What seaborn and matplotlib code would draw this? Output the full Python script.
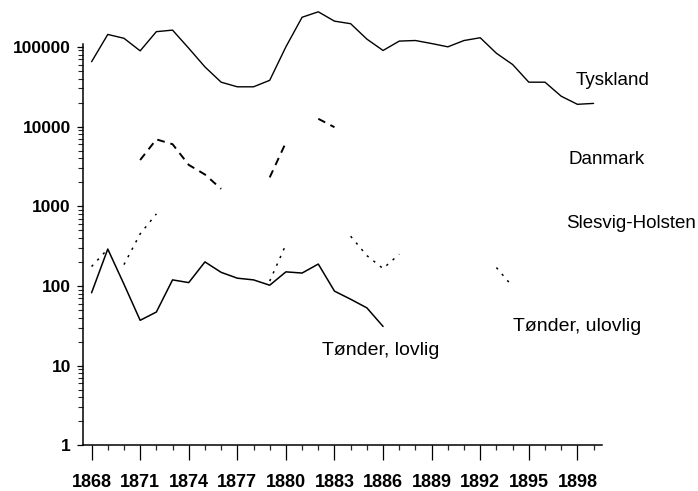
import numpy as np, pandas as pd
import matplotlib
matplotlib.use("Agg")
import matplotlib.pyplot as plt
import matplotlib.ticker as mticker
import seaborn as sns

# years on the x axis
years = list(range(1868, 1900))

# values (None = nothing visible in the scan)
tyskland = [65000, 143000, 128000, 89000, 155000, 162000, 96000, 56000,
            36000, 31500, 31500, 38000, 100000, 235000, 275000, 210000,
            195000, 125000, 90000, 118000, 120000, 110000, 100000, 120000,
            130000, 83000, 60000, 36000, 36000, 24000, 19000, 19500]

danmark = [None, None, None, 3800, 6900, 6000, 3300, 2500,
           1650, None, None, 2300, 6300, None, 12500, 9800,
           None, None, None, None, None, None, None, None,
           None, None, None, None, None, None, None, None]

slesvig = [175, 290, None, None, None, None, None, None,
           None, None, None, None, None, None, None, None,
           420, 240, 165, 250, None, None, None, None,
           None, None, None, None, None, None, None, None]

tonder_lovlig = [82, 290, 105, 37, 47, 119, 110, 200,
                 148, 125, 119, 102, 150, 145, 188, 86,
                 68, 53, 31, None, None, None, None, None,
                 None, None, None, None, None, None, None, None]

tonder_ulovlig = [None, None, 185, 450, 800, None, None, None,
                  None, None, None, 115, 330, None, None, None,
                  None, None, None, None, None, None, None, None,
                  None, 170, 98, None, None, None, None, None]

y_ticks = [1, 10, 100, 1000, 10000, 100000]
x_ticks = list(range(1868, 1899, 3))


def segmenter(vals):
    """ Parte una serie en tramos continuos (sin huecos) para dibujarlos por separado """
    rows = []
    seg = 0
    prev = False
    for yr, v in zip(years, vals):
        if v is None:
            if prev:
                seg += 1
            prev = False
            continue
        rows.append((yr, v, seg))
        prev = True
    return pd.DataFrame(rows, columns=["year", "value", "seg"])


sns.set_style("ticks")
plt.rcParams["font.family"] = ["Liberation Sans", "DejaVu Sans"]
plt.rcParams["text.color"] = "black"

fig = plt.figure(figsize=(6.98, 4.91), dpi=100)
ax = fig.add_axes([0.1196, 0.0931, 0.7424, 0.9008])

series = [
    (tyskland, "-", 1.0),
    (danmark, (0, (4, 3)), 1.4),
    (slesvig, (0, (1.5, 4)), 1.1),
    (tonder_lovlig, "-", 1.1),
    (tonder_ulovlig, (0, (1.5, 4)), 1.1),
]
for vals, ls, lw in series:
    df = segmenter(vals)
    sns.lineplot(data=df, x="year", y="value", units="seg", estimator=None,
                 color="black", linestyle=ls, linewidth=lw, legend=False, ax=ax)

ax.set_yscale("log")
ax.set_xlim(1867.5, 1899.5)
ax.set_ylim(1, 10 ** 5.55)

ax.xaxis.set_major_locator(mticker.FixedLocator(x_ticks))
ax.xaxis.set_minor_locator(mticker.FixedLocator([y for y in years if y not in x_ticks]))
ax.yaxis.set_major_locator(mticker.FixedLocator(y_ticks))
ax.yaxis.set_minor_locator(mticker.FixedLocator(
    [k * 10 ** d for d in range(5) for k in range(2, 10)]))
ax.yaxis.set_major_formatter(mticker.FuncFormatter(lambda v, p: "{:d}".format(int(round(v)))))
ax.yaxis.set_minor_formatter(mticker.NullFormatter())

ax.tick_params(axis="x", which="major", direction="out", length=10.8, width=0.9,
               pad=10, labelsize=13, colors="black")
ax.tick_params(axis="x", which="minor", direction="out", length=3.6, width=0.9)
ax.tick_params(axis="y", which="major", direction="out", length=4, width=0.9,
               pad=5, labelsize=12.5, colors="black")
ax.tick_params(axis="y", which="minor", direction="out", length=3.5, width=0.8)
for lab in ax.get_xticklabels() + ax.get_yticklabels():
    lab.set_fontweight("bold")

ax.set_xlabel("")
ax.set_ylabel("")
for s in ["top", "right"]:
    ax.spines[s].set_visible(False)
for s in ["left", "bottom"]:
    ax.spines[s].set_linewidth(1.1)
    ax.spines[s].set_color("black")
ax.spines["left"].set_bounds(1, 1.1e5)

# etiquetas de las series
etiquetas = [
    ("Tyskland", 1897.91, 33200, 13.5),
    ("Danmark", 1897.48, 3380, 13.5),
    ("Slesvig-Holsten", 1897.3, 528, 13.5),
    ("Tønder, ulovlig", 1894.05, 27.2, 14),
    ("Tønder, lovlig", 1882.25, 13.6, 14),
]
for txt, x, y, size in etiquetas:
    ax.text(x, y, txt, fontsize=size, color="black", ha="left", va="baseline", clip_on=False)

fig.savefig("out.png", dpi=100)
